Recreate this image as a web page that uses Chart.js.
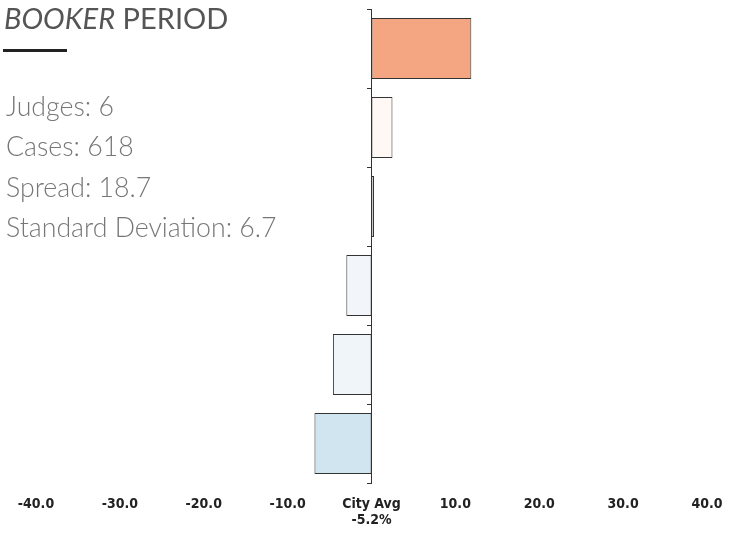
<!DOCTYPE html>
<html>
<head>
<meta charset="utf-8">
<script src="https://cdn.jsdelivr.net/npm/chart.js@4.4.0/dist/chart.umd.min.js"></script>
<style>
  html, body { margin: 0; padding: 0; background: #fff; }
  #wrap { position: relative; width: 739px; height: 533px; }
  #c { position: absolute; left: 0; top: 0; }
  .title { position: absolute; left: 4px; top: 1px; font-family: Lato, sans-serif; font-size: 29px; line-height: 1.2; color: #555; white-space: nowrap; }
  .rule { position: absolute; left: 3px; top: 49px; width: 64px; height: 3px; background: #222; }
  .stats { position: absolute; left: 6px; top: 86px; font-family: Lato, sans-serif; font-weight: 300; font-size: 26.7px; line-height: 40.3px; color: #777; white-space: nowrap; }
</style>
</head>
<body>
<div id="wrap">
  <canvas id="c" width="739" height="533"></canvas>
  <div class="title"><i>BOOKER</i> PERIOD</div>
  <div class="rule"></div>
  <div class="stats" id="stats"></div>
</div>
<script>
const categories = ["Judge A", "Judge B", "Judge C", "Judge D", "Judge E", "Judge F"];
const diffFromAvg = [11.9, 2.5, 0.3, -3.0, -4.6, -6.8];
const barColors = ["#F4A582", "#FFF8F4", "#FEFCFB", "#F2F6FA", "#EFF5F9", "#D1E5F0"];
const xTickValues = [-40, -30, -20, -10, 0, 10, 20, 30, 40];
const cityAvgLabel = ["City Avg", "-5.2%"];
const statLines = ["Judges: 6", "Cases: 618", "Spread: 18.7", "Standard Deviation: 6.7"];

document.getElementById('stats').innerHTML = statLines.map(s => '<div>' + s + '</div>').join('');

new Chart(document.getElementById('c'), {
  type: 'bar',
  data: {
    labels: categories,
    datasets: [{
      data: diffFromAvg,
      backgroundColor: barColors,
      borderColor: '#333',
      borderWidth: 1,
      borderSkipped: false,
      categoryPercentage: 1,
      barPercentage: 0.77
    }]
  },
  options: {
    indexAxis: 'y',
    responsive: false,
    animation: false,
    layout: { padding: { left: 36, right: 32, top: 9, bottom: 0 } },
    plugins: { legend: { display: false }, tooltip: { enabled: false } },
    scales: {
      x: {
        min: -40, max: 40,
        afterBuildTicks: (s) => { s.ticks = xTickValues.map(v => ({ value: v })); },
        afterFit: (s) => { s.height = 50; },
        grid: { display: false, drawTicks: false },
        border: { display: false },
        ticks: {
          padding: 14,
          color: '#222',
          font: { family: "'DejaVu Sans Condensed', 'DejaVu Sans', sans-serif", weight: 'bold', size: 14, lineHeight: 1.1 },
          callback: (v) => v === 0 ? cityAvgLabel : v.toFixed(1)
        }
      },
      y: {
        position: { x: 0 },
        grid: { drawOnChartArea: false, drawTicks: true, tickLength: 4, color: '#333' },
        border: { display: true, color: '#333', width: 1 },
        ticks: { display: false }
      }
    }
  }
});
</script>
</body>
</html>
